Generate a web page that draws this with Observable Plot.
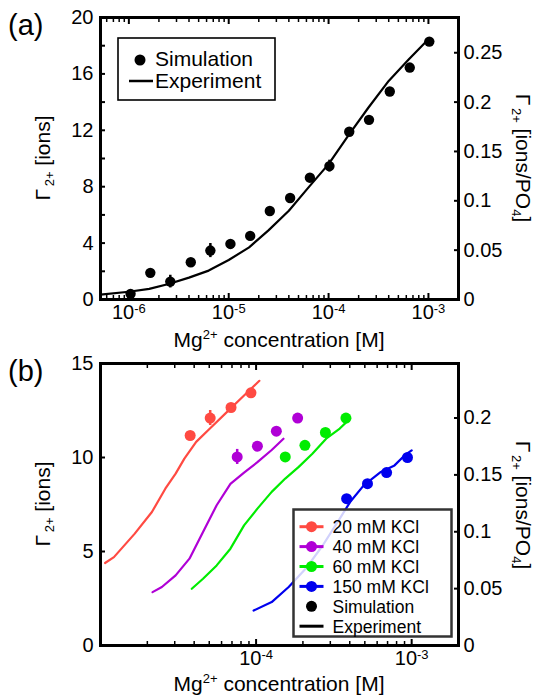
<!DOCTYPE html>
<html><head><meta charset="utf-8">
<script src="https://cdn.jsdelivr.net/npm/d3@7"></script>
<script src="https://cdn.jsdelivr.net/npm/@observablehq/plot@0.6"></script>
<style>
body{margin:0;background:#fff;}
#chart{position:relative;width:534px;height:696px;font-family:"Liberation Sans",Arial,sans-serif;}
#chart svg{position:absolute;left:0;overflow:visible;}
</style></head><body><div id="chart"></div>
<script>
// ---------- Panel (a) data ----------
const simAConc = [1.04e-6, 1.64e-6, 2.6e-6, 4.17e-6, 6.55e-6, 1.04e-5, 1.64e-5, 2.58e-5, 4.12e-5, 6.5e-5, 1.02e-4, 1.61e-4, 2.54e-4, 4.1e-4, 6.5e-4, 1.02e-3];
const simAIons = [0.40, 1.89, 1.27, 2.64, 3.47, 3.94, 4.51, 6.28, 7.2, 8.64, 9.46, 11.9, 12.74, 14.75, 16.45, 18.29];
const simAErr  = [0, 0, 0.45, 0, 0.5, 0, 0, 0, 0, 0, 0.42, 0, 0, 0, 0, 0];
const expAConc = [5.2e-7, 1e-6, 1.6e-6, 2.5e-6, 4e-6, 6.3e-6, 1e-5, 1.6e-5, 2.5e-5, 4e-5, 6.3e-5, 1e-4, 1.6e-4, 2.5e-4, 4e-4, 6.3e-4, 9.5e-4];
const expAIons = [0.35, 0.55, 0.75, 1.1, 1.55, 2.05, 2.8, 3.7, 4.9, 6.3, 7.95, 9.6, 11.7, 13.6, 15.5, 17.0, 18.3];

// ---------- Panel (b) data ----------
const kclLabels = ["20 mM KCl", "40 mM KCl", "60 mM KCl", "150 mM KCl"];
const kclColors = ["#ff4a42", "#b000d6", "#00ec00", "#0000ee"];
const exp20Conc = [1.07e-5, 1.22e-5, 1.66e-5, 2.14e-5, 2.61e-5, 3.04e-5, 3.46e-5, 4.12e-5, 5.05e-5, 6.84e-5, 8.37e-5, 1.05e-4];
const exp20Ions = [4.39, 4.7, 5.95, 7.1, 8.34, 9.14, 9.94, 10.83, 11.54, 12.6, 13.3, 14.08];
const exp40Conc = [2.16e-5, 2.48e-5, 3.04e-5, 3.73e-5, 4.56e-5, 5.58e-5, 6.84e-5, 8.37e-5, 1.02e-4, 1.26e-4, 1.5e-4];
const exp40Ions = [2.84, 3.11, 3.73, 4.62, 6.04, 7.46, 8.6, 9.2, 9.75, 10.4, 11.0];
const exp60Conc = [3.86e-5, 4.56e-5, 5.58e-5, 6.84e-5, 8.37e-5, 1.02e-4, 1.26e-4, 1.54e-4, 1.88e-4, 2.3e-4, 2.82e-4, 3.45e-4, 4.02e-4];
const exp60Ions = [3.02, 3.55, 4.26, 5.15, 6.39, 7.28, 8.17, 8.88, 9.5, 10.2, 11.0, 11.54, 12.07];
const exp150Conc = [9.64e-5, 1.26e-4, 1.62e-4, 2.08e-4, 2.68e-4, 3.45e-4, 4.02e-4, 4.92e-4, 6.34e-4, 7.76e-4, 9.03e-4, 1e-3];
const exp150Ions = [1.86, 2.31, 3.11, 4.08, 5.32, 6.75, 7.63, 8.52, 9.23, 9.58, 10.12, 10.38];
const sim20Conc = [3.77e-5, 5.07e-5, 6.9e-5, 9.27e-5];
const sim20Ions = [11.17, 12.1, 12.66, 13.44];
const sim20Err  = [0, 0.4, 0, 0];
const sim40Conc = [7.56e-5, 1.02e-4, 1.35e-4, 1.85e-4];
const sim40Ions = [10.03, 10.6, 11.4, 12.1];
const sim40Err  = [0.4, 0, 0, 0];
const sim60Conc = [1.54e-4, 2.06e-4, 2.79e-4, 3.78e-4];
const sim60Ions = [10.03, 10.65, 11.33, 12.1];
const sim60Err  = [0, 0, 0, 0];
const sim150Conc = [3.82e-4, 5.2e-4, 6.9e-4, 9.4e-4];
const sim150Ions = [7.81, 8.61, 9.2, 10.0];
const sim150Err  = [0, 0, 0, 0];

// ---------- ticks ----------
const yTicksA = [0, 2, 4, 6, 8, 10, 12, 14, 16, 18, 20];
const yLabelsA = [0, 4, 8, 12, 16, 20];
const rightTicksA = [0, 0.05, 0.1, 0.15, 0.2, 0.25];
const PO4_A = 70;
const yTicksB = [0, 5, 10, 15];
const rightTicksB = [0, 0.05, 0.1, 0.15, 0.2];
const PO4_B = 60.5;
const xMajorA = [1e-6, 1e-5, 1e-4, 1e-3];
const xMajorB = [1e-4, 1e-3];
const minorMult = [2, 3, 4, 5, 6, 7, 8, 9];
const decadesA = [1e-7, 1e-6, 1e-5, 1e-4];
const decadesB = [1e-5, 1e-4];
const domainA = [5.2e-7, 2e-3];
const domainB = [1e-5, 2e-3];

const zip = (c, v, e) => c.map((x, i) => ({c: x, v: v[i], e: e ? e[i] : 0}));
const minorOf = (decs, dom) => decs.flatMap(d => minorMult.map(m => m * d)).filter(t => t > dom[0] * 1.01 && t < dom[1] * 0.99);

const FONT = '"Liberation Sans", Arial, sans-serif';
const W = 534;
const ML = 100, MR = 76;

function frameAxes(xMajor, xMinor, yTicks, yLabels, rightTicks, po4) {
  const rt = rightTicks.map(v => v * po4);
  return [
    Plot.axisY({anchor: "left", ticks: yTicks, tickSize: 5, dx: 5, fill: "none", strokeWidth: 2, label: null}),
    Plot.axisY({anchor: "right", ticks: rt, tickSize: 5, dx: -5, fill: "none", strokeWidth: 2, label: null}),
    Plot.axisY({anchor: "left", ticks: yLabels, tickSize: 0, tickPadding: 7, tickFormat: d => String(d), label: null}),
    Plot.axisY({anchor: "right", ticks: rt, tickSize: 0, tickPadding: 5, tickFormat: d => String(+(d / po4).toFixed(2)), label: null}),
    Plot.axisX({anchor: "bottom", ticks: xMajor, tickSize: 6, dy: -6, fill: "none", strokeWidth: 2, label: null}),
    Plot.axisX({anchor: "bottom", ticks: xMinor, tickSize: 4, dy: -4, fill: "none", strokeWidth: 1.5, label: null}),
    Plot.axisX({anchor: "top", ticks: xMajor, tickSize: 6, dy: 6, fill: "none", strokeWidth: 2, label: null}),
    Plot.axisX({anchor: "top", ticks: xMinor, tickSize: 4, dy: 4, fill: "none", strokeWidth: 1.5, label: null}),
    Plot.axisX({anchor: "bottom", ticks: xMajor, tickSize: 0, tickPadding: 5, tickFormat: d => "10^" + Math.round(Math.log10(d)), label: null}),
    Plot.frame({stroke: "black", strokeWidth: 3})
  ];
}

function supTicks(svg) {
  d3.select(svg).selectAll('g[aria-label="x-axis tick label"] text').each(function () {
    const t = d3.select(this);
    const s = t.text();
    if (!s.includes("^")) return;
    const [b, e] = s.split("^");
    t.text(null);
    t.append("tspan").text(b);
    t.append("tspan").attr("dy", "-0.42em").attr("font-size", "13px").text(e);
  });
}

function richText(svg, x, y, rot, parts, size) {
  const t = d3.select(svg).append("text")
    .attr("transform", `translate(${x},${y}) rotate(${rot})`)
    .attr("text-anchor", "middle").attr("font-size", size + "px")
    .attr("font-family", FONT).attr("fill", "black");
  let shift = 0;
  parts.forEach(([s, kind]) => {
    const target = kind === "sub" ? 4 : kind === "sup" ? -8 : 0;
    const sp = t.append("tspan").text(s).attr("dy", target - shift);
    if (kind) sp.attr("font-size", "13px");
    shift = target;
  });
}

function plainText(sel, x, y, size, str) {
  return sel.append("text").attr("x", x).attr("y", y).attr("font-size", size + "px")
    .attr("font-family", FONT).attr("text-anchor", "start").attr("fill", "black").text(str);
}

const yLabelParts = [["Γ", ""], ["\u20092+", "sub"], [" [ions]", ""]];
const yRightParts = [["Γ", ""], ["\u20092+", "sub"], [" [ions/PO", ""], ["4", "sub"], ["]", ""]];
const xLabelParts = [["Mg", ""], ["2+", "sup"], [" concentration [M]", ""]];

const chart = document.getElementById("chart");

// ---------- Panel (a) ----------
const simA = zip(simAConc, simAIons, simAErr);
const expA = zip(expAConc, expAIons);
const HA = 352;
const pA = Plot.plot({
  width: W, height: HA, marginLeft: ML, marginRight: MR, marginTop: 17, marginBottom: HA - 299,
  style: {fontFamily: FONT, fontSize: "20px", background: "transparent", overflow: "visible", color: "black"},
  x: {type: "log", domain: domainA},
  y: {domain: [0, 20]},
  marks: [
    Plot.line(expA, {x: "c", y: "v", stroke: "black", strokeWidth: 2.2}),
    Plot.ruleX(simA.filter(d => d.e > 0), {x: "c", y1: d => d.v - d.e, y2: d => d.v + d.e, stroke: "black", strokeWidth: 2.5}),
    Plot.dot(simA, {x: "c", y: "v", r: 5.2, fill: "black"}),
    ...frameAxes(xMajorA, minorOf(decadesA, domainA), yTicksA, yLabelsA, rightTicksA, PO4_A)
  ]
});
pA.style.top = "0px";
chart.appendChild(pA);
supTicks(pA);
richText(pA, 279, 347, 0, xLabelParts, 21);
richText(pA, 50, 158, -90, yLabelParts, 21);
richText(pA, 516, 158, 90, yRightParts, 21);
plainText(d3.select(pA), 8, 35, 29, "(a)");
{
  const g = d3.select(pA).append("g");
  g.append("rect").attr("x", 118).attr("y", 38).attr("width", 157).attr("height", 62).attr("fill", "white").attr("stroke", "black").attr("stroke-width", 1.6);
  g.append("circle").attr("cx", 140).attr("cy", 60).attr("r", 5.5).attr("fill", "black");
  g.append("line").attr("x1", 129).attr("x2", 153).attr("y1", 81).attr("y2", 81).attr("stroke", "black").attr("stroke-width", 2.5);
  plainText(g, 155, 66, 21, "Simulation");
  plainText(g, 155, 88, 21, "Experiment");
}

// ---------- Panel (b) ----------
const expSets = [[exp20Conc, exp20Ions], [exp40Conc, exp40Ions], [exp60Conc, exp60Ions], [exp150Conc, exp150Ions]];
const simSets = [[sim20Conc, sim20Ions, sim20Err], [sim40Conc, sim40Ions, sim40Err], [sim60Conc, sim60Ions, sim60Err], [sim150Conc, sim150Ions, sim150Err]];
const expB = expSets.flatMap(([c, v], k) => zip(c, v).map(d => ({...d, s: kclLabels[k]})));
const simB = simSets.flatMap(([c, v, e], k) => zip(c, v, e).map(d => ({...d, s: kclLabels[k]})));
const TOPB = 352, HB = 344;
const pB = Plot.plot({
  width: W, height: HB, marginLeft: ML, marginRight: MR, marginTop: 363 - TOPB, marginBottom: HB - (645 - TOPB),
  style: {fontFamily: FONT, fontSize: "20px", background: "transparent", overflow: "visible", color: "black"},
  x: {type: "log", domain: domainB},
  y: {domain: [0, 15]},
  color: {domain: kclLabels, range: kclColors},
  marks: [
    Plot.line(expB, {x: "c", y: "v", z: "s", stroke: "s", strokeWidth: 2.2}),
    Plot.ruleX(simB.filter(d => d.e > 0), {x: "c", y1: d => d.v - d.e, y2: d => d.v + d.e, stroke: "s", strokeWidth: 2.5}),
    Plot.dot(simB, {x: "c", y: "v", r: 5.5, fill: "s"}),
    ...frameAxes(xMajorB, minorOf(decadesB, domainB), yTicksB, yTicksB, rightTicksB, PO4_B)
  ]
});
pB.style.top = TOPB + "px";
chart.appendChild(pB);
supTicks(pB);
richText(pB, 279, 691 - TOPB, 0, xLabelParts, 21);
richText(pB, 50, 504 - TOPB, -90, yLabelParts, 21);
richText(pB, 516, 505 - TOPB, 90, yRightParts, 21);
plainText(d3.select(pB), 8, 381 - TOPB, 29, "(b)");
{
  const g = d3.select(pB).append("g");
  const top = 509.5 - TOPB;
  g.append("rect").attr("x", 293.5).attr("y", top).attr("width", 158).attr("height", 127).attr("fill", "white").attr("fill-opacity", 0.82).attr("stroke", "#333").attr("stroke-width", 2.5);
  const rows = [...kclLabels, "Simulation", "Experiment"];
  rows.forEach((lab, i) => {
    const cy = top + 17.2 + i * 19.9;
    const col = i < 4 ? kclColors[i] : "black";
    if (i !== 4) g.append("line").attr("x1", 299.5).attr("x2", 323.5).attr("y1", cy).attr("y2", cy).attr("stroke", col).attr("stroke-width", 3);
    if (i !== 5) g.append("circle").attr("cx", 311.5).attr("cy", cy).attr("r", 5.5).attr("fill", col);
    plainText(g, 332.5, cy + 6.5, 17.5, lab);
  });
}
</script></body></html>
